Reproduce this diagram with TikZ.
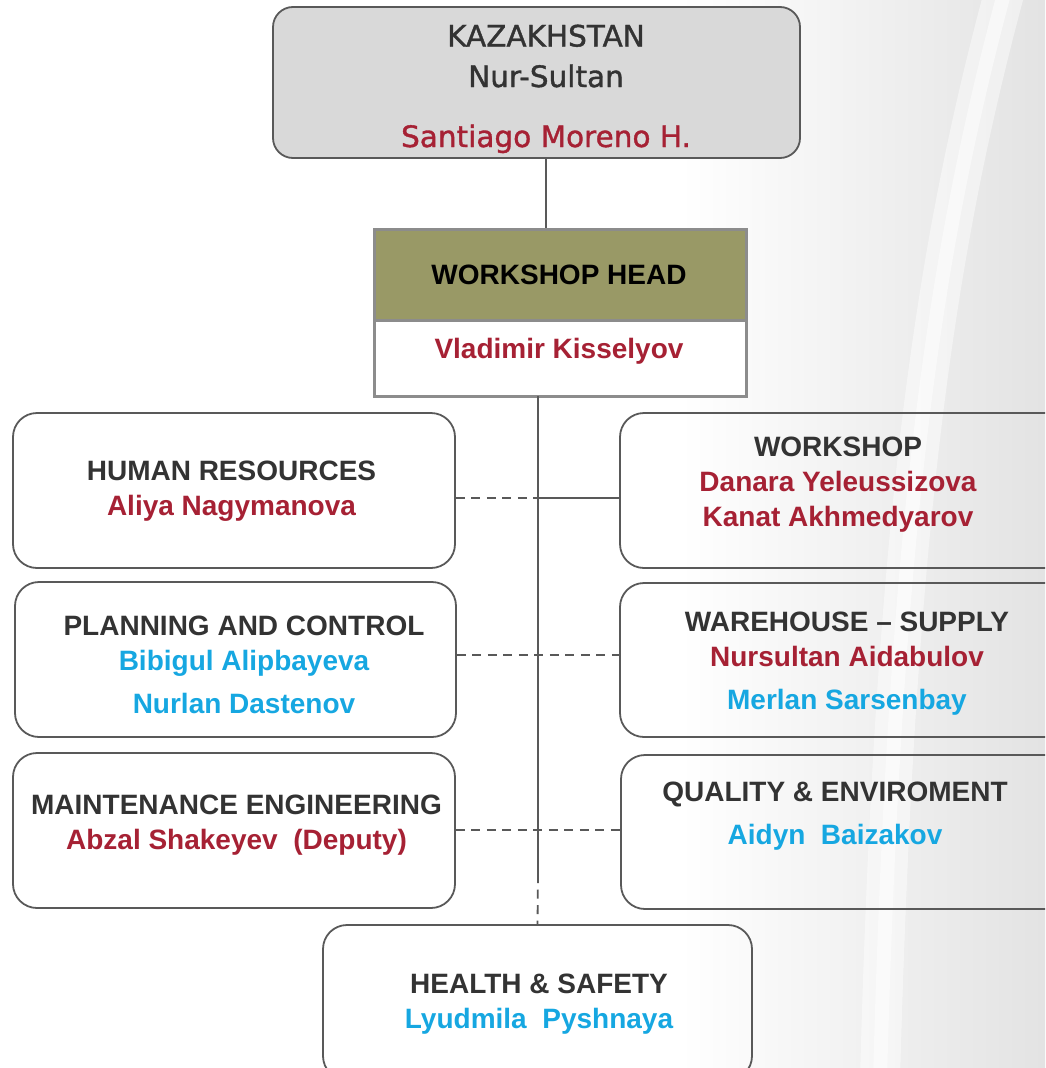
\documentclass[tikz,border=0pt]{standalone}
\usepackage{fontspec}
\setmainfont{Liberation Sans}
\newfontfamily\topfont[FakeBold=1.2]{DejaVu Sans}
\usepackage{xcolor}

\definecolor{boxline}{RGB}{89,89,89}
\definecolor{headline}{RGB}{140,140,140}
\definecolor{topgray}{RGB}{217,217,217}
\definecolor{headolive}{RGB}{153,153,102}
\definecolor{darktext}{RGB}{51,51,51}
\definecolor{namered}{RGB}{166,33,52}
\definecolor{nameblue}{RGB}{22,167,225}

\tikzset{
  unit/.style={draw=boxline, line width=1.8pt, rounded corners=24pt, minimum width=442pt, minimum height=155pt},
  headbox/.style={draw=headline, line width=3pt, minimum width=372pt},
  caption/.style={align=center, anchor=base, inner sep=0pt, text=darktext, font=\fontsize{28}{35}\selectfont\bfseries},
  link/.style={draw=boxline, line width=1.8pt},
  dashlink/.style={link, dash pattern=on 9pt off 6.5pt},
}

\begin{document}
\begin{tikzpicture}[x=1pt,y=1pt,yscale=-1,xscale=1]
\useasboundingbox (0,0) rectangle (1045,1068);
\clip (0,0) rectangle (1045,1068);

% faded rail photo on the right
\shade[left color=white, right color=black!11] (680,0) rectangle (1045,1068);
\draw[white, line width=40pt, opacity=0.45] (1005,-10) .. controls (935,250) and (895,520) .. (880,1080);
\draw[white, line width=14pt, opacity=0.5] (1005,-10) .. controls (935,250) and (895,520) .. (880,1080);

% boxes
\node[unit, fill=topgray, rounded corners=20pt, minimum width=527pt, minimum height=151pt] (country) at (536.5,82.5) {};
\node[headbox, fill=headolive, minimum height=91pt] (head) at (560,274.5) {};
\node[headbox, fill=white, minimum height=76pt] (headname) at (560,358) {};
\node[unit] (hr) at (234,490.5) {};
\node[unit, minimum width=450pt] (workshop) at (845,490.5) {};
\node[unit, minimum width=441pt] (planning) at (235.5,659.5) {};
\node[unit, minimum width=450pt, minimum height=154pt] (warehouse) at (845,660) {};
\node[unit] (maint) at (234,830.5) {};
\node[unit, minimum width=449pt, minimum height=154pt] (quality) at (845.5,832) {};
\node[unit, minimum width=429pt] (safety) at (537.5,1002.5) {};

% texts (base = last line)
\node[caption, font=\topfont\fontsize{29.5}{40.5}\selectfont] (countryText) at (546,147) {KAZAKHSTAN\\Nur-Sultan\\[19.5pt]\textcolor{namered}{Santiago Moreno H.}};
\node[caption, text=black] (headText) at (559,284) {WORKSHOP HEAD};
\node[caption, text=namered] (headName) at (559,358) {Vladimir Kisselyov};
\node[caption] (hrText) at (231.5,515) {HUMAN RESOURCES\\\textcolor{namered}{Aliya Nagymanova}};
\node[caption] (workshopText) at (838,526) {WORKSHOP\\\textcolor{namered}{Danara Yeleussizova}\\\textcolor{namered}{Kanat Akhmedyarov}};
\node[caption] (planningText) at (244,713) {PLANNING AND CONTROL\\\textcolor{nameblue}{Bibigul Alipbayeva}\\[8pt]\textcolor{nameblue}{Nurlan Dastenov}};
\node[caption] (warehouseText) at (847,709) {WAREHOUSE -- SUPPLY\\\textcolor{namered}{Nursultan Aidabulov}\\[8pt]\textcolor{nameblue}{Merlan Sarsenbay}};
\node[caption] (maintText) at (236.5,849) {MAINTENANCE ENGINEERING\\\textcolor{namered}{Abzal Shakeyev\ \ (Deputy)}};
\node[caption] (qualityText) at (835,844) {QUALITY \& ENVIROMENT\\[8pt]\textcolor{nameblue}{Aidyn\ \ Baizakov}};
\node[caption] (safetyText) at (539,1028) {HEALTH \& SAFETY\\\textcolor{nameblue}{Lyudmila\ \ Pyshnaya}};

% connectors
\coordinate (spineTop) at (538,396);
\coordinate (spineEnd) at (538,874);
\coordinate (rowHR) at (538,498);
\coordinate (rowPC) at (538,655);
\coordinate (rowME) at (538,830);

\draw[link] ([xshift=9.5pt]country.south) -- ([xshift=9.5pt]country.south |- head.north);
\draw[link] (spineTop) -- (spineEnd);
\draw[dashlink] (spineEnd) -- (safety.north);
\draw[dashlink] (hr.east |- rowHR) -- (rowHR);
\draw[link] (rowHR) -- (workshop.west |- rowHR);
\draw[dashlink] (planning.east |- rowPC) -- (warehouse.west |- rowPC);
\draw[dashlink] (maint.east |- rowME) -- (quality.west |- rowME);
\end{tikzpicture}
\end{document}
